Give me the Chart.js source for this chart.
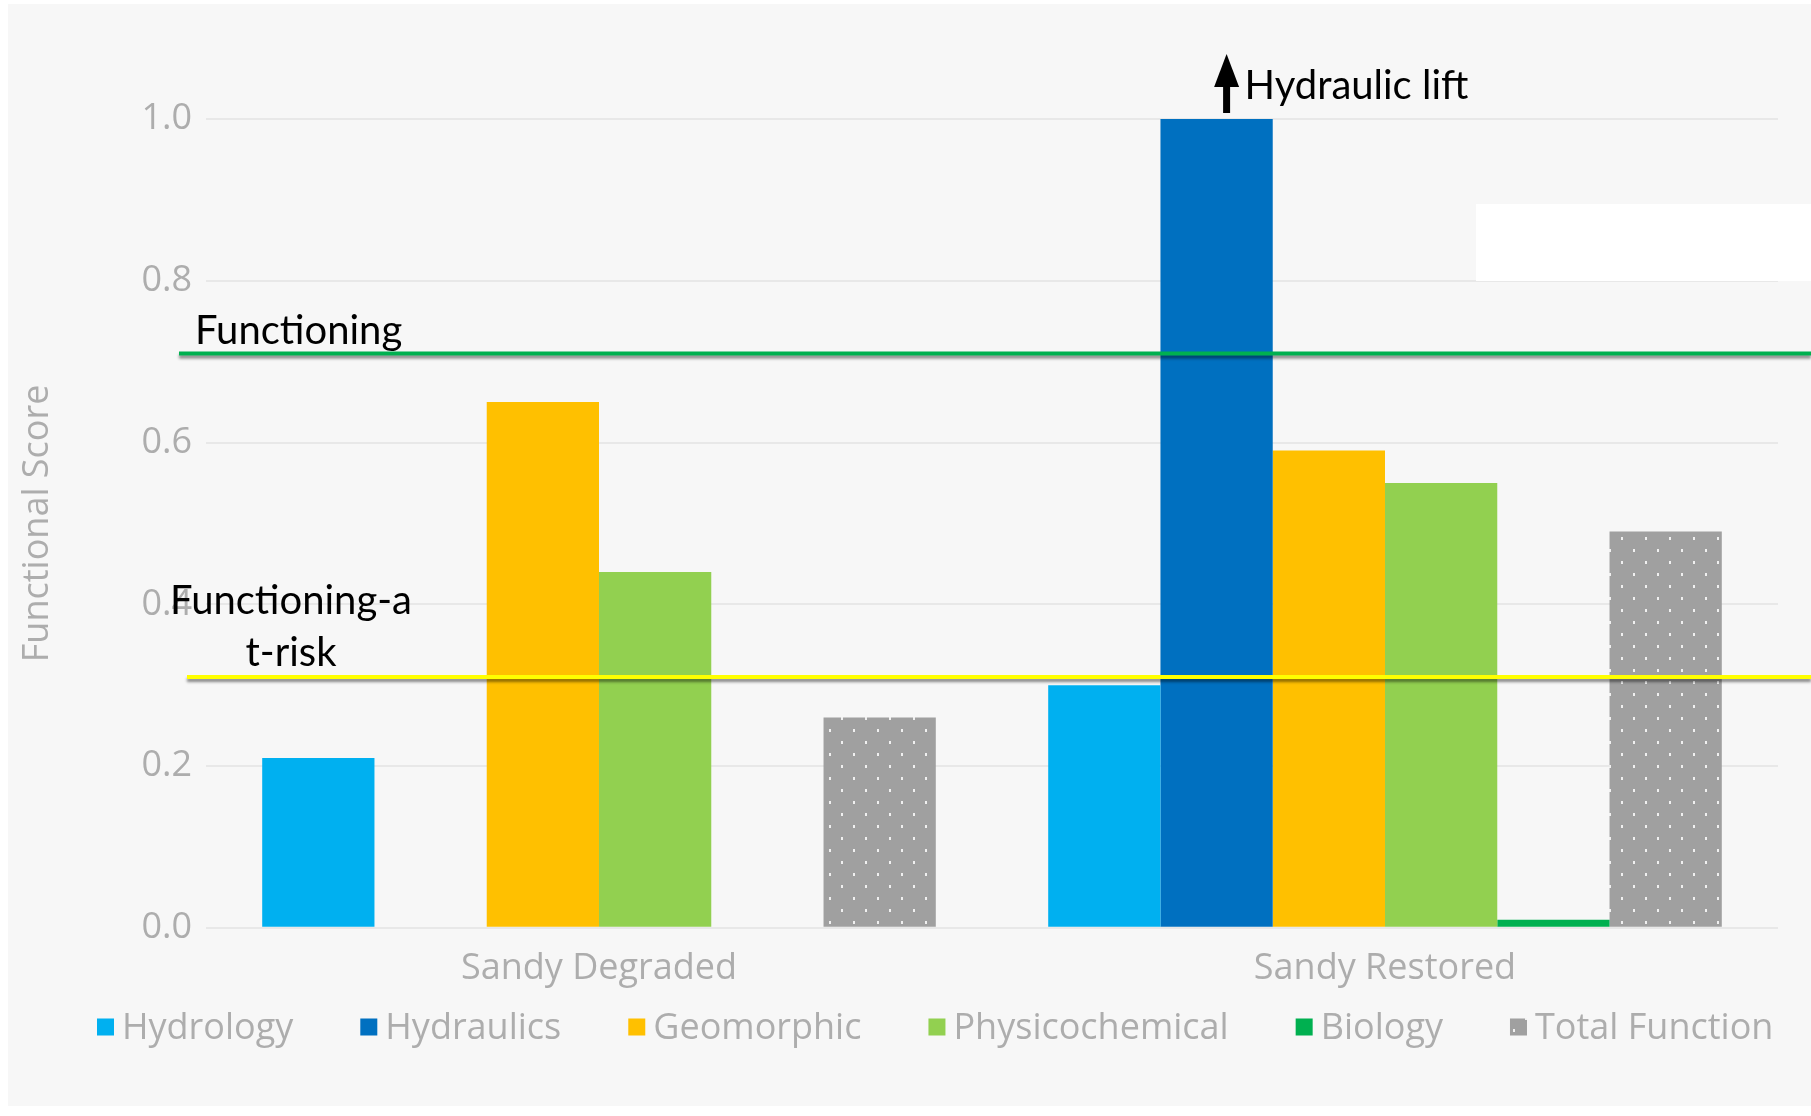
<!DOCTYPE html>
<html>
<head>
<meta charset="utf-8">
<title>Functional Score</title>
<script src="https://cdn.jsdelivr.net/npm/chart.js@4.4.1/dist/chart.umd.min.js"></script>
<style>
  html, body { margin: 0; padding: 0; background: #ffffff; }
  #wrap { position: absolute; left: 8px; top: 4px; width: 1803px; height: 1102px; background: #f7f7f7; }
</style>
</head>
<body>
<div id="wrap"><canvas id="scoreChart"></canvas></div>
<script>
// === Functional score by parameter, degraded vs restored reach ===

const sites = ['Sandy Degraded', 'Sandy Restored'];
const hydrology = [0.21, 0.30];
const hydraulics = [0, 1.0];
const geomorphic = [0.65, 0.59];
const physicochemical = [0.44, 0.55];
const biology = [0, 0.01];
const totalFunction = [0.26, 0.49];

const yTicks = [0, 0.2, 0.4, 0.6, 0.8, 1.0];

// threshold lines
const functioningLevel = 0.71;
const atRiskLevel = 0.31;

const greyText = '#adadad';
const uiFont = "'Open Sans', 'Noto Sans', sans-serif";
const noteFont = "Lato, 'Noto Sans', sans-serif";

// dotted grey fill for the total bars
function dotPattern() {
  const c = document.createElement('canvas');
  c.width = 24; c.height = 24;
  const g = c.getContext('2d');
  g.fillStyle = '#a0a0a0';
  g.fillRect(0, 0, 24, 24);
  g.fillStyle = '#f0f0f0';
  g.fillRect(5, 5, 2, 3);
  g.fillRect(17, 17, 2, 3);
  return g.createPattern(c, 'repeat');
}
const totalFill = dotPattern();

// lines, notes and legend drawn on top of the bars
const notesPlugin = {
  id: 'notes',
  afterDatasetsDraw(chart) {
    const ctx = chart.ctx;
    const y = chart.scales.y;
    const W = chart.canvas.clientWidth;

    // blank patch at top right
    ctx.save();
    ctx.fillStyle = '#ffffff';
    ctx.fillRect(1468, 200, W - 1468, 77);
    ctx.restore();

    const hLine = (value, x0, color) => {
      const py = y.getPixelForValue(value);
      ctx.save();
      ctx.shadowColor = 'rgba(0,0,0,0.45)';
      ctx.shadowBlur = 3;
      ctx.shadowOffsetY = 3;
      ctx.strokeStyle = color;
      ctx.lineWidth = 4;
      ctx.beginPath();
      ctx.moveTo(x0, py);
      ctx.lineTo(W, py);
      ctx.stroke();
      ctx.restore();
      return py;
    };

    const gy = hLine(functioningLevel, 171, '#00b050');
    const yy = hLine(atRiskLevel, 179, '#ffff00');

    ctx.save();
    ctx.fillStyle = '#000000';
    ctx.font = '40px ' + noteFont;
    ctx.textBaseline = 'alphabetic';
    ctx.textAlign = 'left';
    ctx.fillText('Functioning', 187, gy - 10);
    ctx.textAlign = 'center';
    ctx.fillText('Functioning-a', 283, yy - 63);
    ctx.fillText('t-risk', 283, yy - 11);

    // arrow over the restored hydraulics bar
    const bar = chart.getDatasetMeta(1).data[1];
    const ax = bar.x + 10;
    const top = bar.y;
    ctx.fillRect(ax - 3.5, top - 34, 7, 28);
    ctx.beginPath();
    ctx.moveTo(ax, top - 65);
    ctx.lineTo(ax - 12.5, top - 32);
    ctx.lineTo(ax + 12.5, top - 32);
    ctx.closePath();
    ctx.fill();
    ctx.textAlign = 'left';
    ctx.fillText('Hydraulic lift', bar.x + 28, top - 20);
    ctx.restore();

    // legend row
    ctx.save();
    ctx.font = '36px ' + uiFont;
    ctx.textBaseline = 'middle';
    ctx.textAlign = 'left';
    let lx = 89;
    const ly = 1023;
    chart.data.datasets.forEach(ds => {
      ctx.fillStyle = ds.backgroundColor;
      ctx.fillRect(lx, ly - 8.5, 17, 17);
      lx += 17 + 8;
      ctx.fillStyle = greyText;
      ctx.fillText(ds.label, lx, ly + 2);
      lx += ctx.measureText(ds.label).width + 67;
    });
    ctx.restore();
  }
};

const ctx = document.getElementById('scoreChart').getContext('2d');
new Chart(ctx, {
  type: 'bar',
  data: {
    labels: sites,
    datasets: [
      { label: 'Hydrology', data: hydrology, backgroundColor: '#00b0f0' },
      { label: 'Hydraulics', data: hydraulics, backgroundColor: '#0070c0' },
      { label: 'Geomorphic', data: geomorphic, backgroundColor: '#ffc000' },
      { label: 'Physicochemical', data: physicochemical, backgroundColor: '#92d050' },
      { label: 'Biology', data: biology, backgroundColor: '#00b050' },
      { label: 'Total Function', data: totalFunction, backgroundColor: totalFill }
    ]
  },
  options: {
    responsive: true,
    maintainAspectRatio: false,
    animation: false,
    layout: { padding: { top: 115, right: 33, bottom: 97, left: 0 } },
    datasets: { bar: { categoryPercentage: 0.857, barPercentage: 1.0, borderWidth: 0 } },
    plugins: {
      legend: { display: false },
      tooltip: { enabled: false }
    },
    scales: {
      x: {
        grid: { display: false, drawTicks: false },
        border: { display: false },
        ticks: { color: greyText, font: { family: uiFont, size: 36 }, padding: 19 }
      },
      y: {
        min: 0,
        max: 1,
        afterBuildTicks: scale => { scale.ticks = yTicks.map(v => ({ value: v })); },
        afterFit: scale => { scale.width = 198; },
        grid: { color: '#e8e8e8', lineWidth: 2, drawTicks: false },
        border: { display: false },
        ticks: {
          color: greyText,
          font: { family: uiFont, size: 36 },
          padding: 14,
          callback: v => v.toFixed(1)
        },
        title: {
          display: true,
          text: 'Functional Score',
          color: greyText,
          font: { family: uiFont, size: 36 },
          padding: { top: 8, bottom: 0 }
        }
      }
    }
  },
  plugins: [notesPlugin]
});
</script>
</body>
</html>
